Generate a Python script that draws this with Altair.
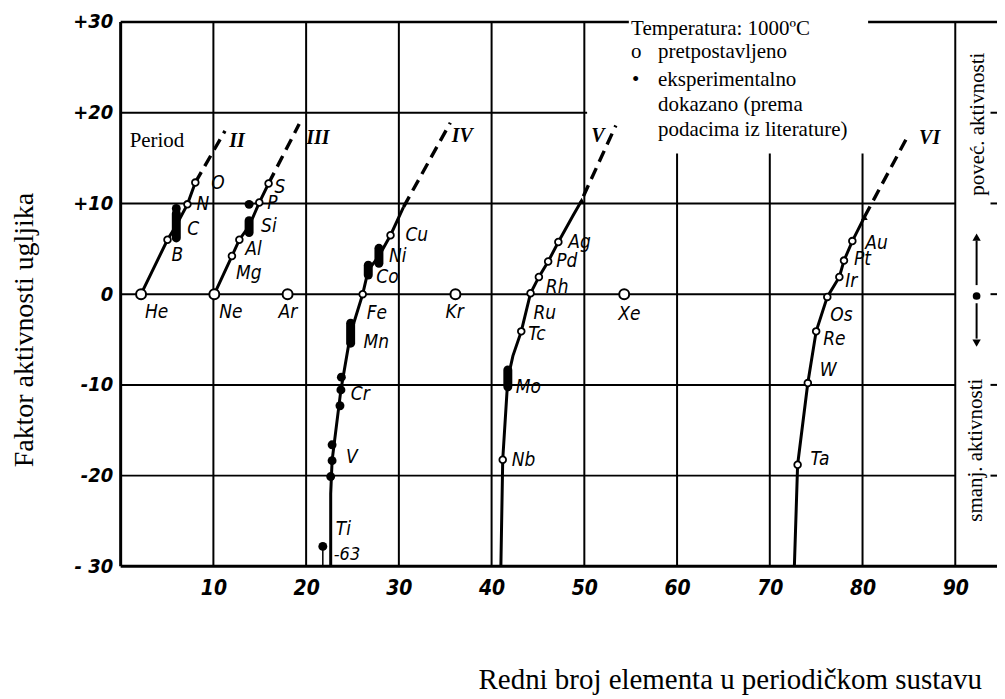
import altair as alt
import pandas as pd

# ---------------- data ----------------
x_ticks = [10, 20, 30, 40, 50, 60, 70, 80, 90]
y_ticks = [-30, -20, -10, 0, 10, 20, 30]

# assumed values (open circles): symbol, atomic number position, activity factor
open_sym = ["He", "B", "N", "O", "Ne", "Mg", "Al", "P", "S", "Ar", "Fe", "Cu", "Kr",
            "Nb", "Tc", "Ru", "Rh", "Pd", "Ag", "Xe",
            "Ta", "W", "Re", "Os", "Ir", "Pt", "Au"]
open_z = [2.2, 5.05, 7.2, 8.05, 10.1, 12.0, 12.8, 14.95, 15.95, 18.0, 26.1, 29.1, 36.1,
          41.2, 43.2, 44.2, 45.1, 46.1, 47.2, 54.3,
          73.0, 74.1, 75.0, 76.2, 77.5, 78.0, 78.9]
open_f = [0, 6.0, 9.9, 12.3, 0, 4.2, 6.0, 10.1, 12.2, 0, 0, 6.5, 0,
          -18.25, -4.1, 0.1, 1.9, 3.6, 5.75, 0,
          -18.8, -9.8, -4.1, -0.3, 1.9, 3.7, 5.85]
noble = ["He", "Ne", "Ar", "Kr", "Xe"]

# experimental values (filled dots)
dot_sym = ["C", "Si", "Cr", "Cr", "Cr", "V", "V", "V", "Ti"]
dot_z = [6.0, 13.85, 23.8, 23.75, 23.65, 22.8, 22.8, 22.65, 21.8]
dot_f = [9.45, 9.9, -9.15, -10.55, -12.3, -16.6, -18.35, -20.1, -27.8]

# experimental ranges (filled bars)
bar_sym = ["C", "Si", "Mn", "Co", "Ni", "Mo"]
bar_z = [6.0, 13.85, 24.8, 26.7, 27.85, 41.75]
bar_lo = [6.2, 6.8, -5.4, 2.1, 3.4, -10.2]
bar_hi = [8.9, 8.1, -3.2, 3.2, 5.05, -8.35]

# period curves (solid part) and their dashed extrapolation
periods = ["II", "III", "IV", "V", "VI"]
solid_z = {
    "II": [2.2, 5.05, 6.0, 7.2, 8.05],
    "III": [10.1, 12.0, 12.8, 13.85, 14.95, 15.95],
    "IV": [22.65, 22.65, 22.8, 23.75, 24.8, 26.1, 26.7, 27.85, 29.1, 30.5],
    "V": [41.0, 41.2, 41.75, 42.3, 43.2, 44.2, 45.1, 46.1, 47.2, 48.8, 49.7],
    "VI": [72.65, 73.0, 74.1, 75.0, 76.2, 77.5, 78.0, 78.9, 80.2],
}
solid_f = {
    "II": [0, 6.0, 7.6, 9.9, 12.3],
    "III": [0, 4.2, 6.0, 7.5, 10.1, 12.2],
    "IV": [-30, -22, -18.35, -10.55, -4.3, 0, 2.65, 4.2, 6.5, 9.6],
    "V": [-30, -18.25, -9.3, -6.8, -4.1, 0.1, 1.9, 3.6, 5.75, 8.7, 10.3],
    "VI": [-30, -18.8, -9.8, -4.1, -0.3, 1.9, 3.7, 5.85, 8.5],
}
dash_z = {"II": [8.05, 11.25], "III": [15.95, 19.25], "IV": [30.5, 35.55],
          "V": [49.9, 53.4], "VI": [80.2, 85.0]}
dash_f = {"II": [12.3, 18.0], "III": [12.2, 18.75], "IV": [9.6, 18.9],
          "V": [10.8, 18.6], "VI": [8.5, 17.65]}
wedge_z = [49.7, 80.2]
wedge_f = [10.3, 8.5]

period_label_z = [11.7, 20.0, 35.7, 50.75, 86.1]
period_label_f = [16.9, 17.2, 17.4, 17.4, 17.2]

# label anchors for element symbols
label_sym = ["He", "B", "C", "N", "O", "Ne", "Mg", "Al", "Si", "P", "S", "Ar",
             "Fe", "Mn", "Cr", "V", "Ti", "Co", "Ni", "Cu", "Kr",
             "Nb", "Mo", "Tc", "Ru", "Rh", "Pd", "Ag", "Xe",
             "Ta", "W", "Re", "Os", "Ir", "Pt", "Au"]
label_z = [2.2, 5.05, 6.0, 7.2, 8.05, 10.1, 12.0, 12.8, 13.85, 14.95, 15.95, 18.0,
           26.1, 24.8, 23.75, 22.8, 21.8, 26.7, 27.85, 29.1, 36.1,
           41.2, 41.75, 43.2, 44.2, 45.1, 46.1, 47.2, 54.3,
           73.0, 74.1, 75.0, 76.2, 77.5, 78.0, 78.9]
label_f = [0, 6.0, 7.55, 9.9, 12.3, 0, 4.2, 6.0, 7.45, 10.1, 12.2, 0,
           0, -4.3, -10.55, -18.35, -27.8, 2.65, 4.2, 6.5, 0,
           -18.25, -9.3, -4.1, 0.1, 1.9, 3.6, 5.75, 0,
           -18.8, -9.8, -4.1, -0.3, 1.9, 3.7, 5.85]

# ---------------- layout / style ----------------
X_MAX = 94.5
PLOT_W = 879
PLOT_H = 546
PXU_X = PLOT_W / X_MAX
PXU_Y = PLOT_H / 60.0

# pixel offsets of the symbol labels from their anchors (dx right, dy down)
label_offset = {
    "He": (4, 18), "B": (4, 15), "C": (11, 3), "N": (9, 0), "O": (16, 0),
    "Ne": (5, 18), "Mg": (4, 17), "Al": (6, 9), "Si": (12, -1), "P": (8, 0), "S": (6, 4),
    "Ar": (-9, 18), "Fe": (4, 19), "Mn": (13, 9), "Cr": (10, 4), "V": (14, -4),
    "Ti": (13, -17), "Co": (8, 7), "Ni": (10, 0), "Cu": (15, 0), "Kr": (-10, 18),
    "Nb": (9, 0), "Mo": (8, 8), "Tc": (7, 3), "Ru": (3, 20), "Rh": (7, 10), "Pd": (8, 0),
    "Ag": (10, 0), "Xe": (-6, 20), "Ta": (13, -6), "W": (12, -13), "Re": (7, 8),
    "Os": (3, 18), "Ir": (6, 4), "Pt": (10, -2), "Au": (13, 2),
}

LF = "Liberation Sans Narrow, DejaVu Sans Condensed, Arial Narrow, Liberation Sans, sans-serif"
SF = "Liberation Serif, Times New Roman, serif"

xs = alt.Scale(domain=[0, X_MAX], nice=False, zero=False)
ys = alt.Scale(domain=[-30, 30], nice=False, zero=False)

x_axis = alt.Axis(values=x_ticks, labelFont=LF, labelFontSize=21, labelFontStyle="italic",
                  labelFontWeight="bold", labelPadding=11, ticks=False, domain=False, grid=False,
                  labelColor="black", labelFlush=False, title=None)
y_axis = alt.Axis(values=y_ticks, labelFont=LF, labelFontSize=20, labelFontStyle="italic",
                  labelFontWeight="bold", labelPadding=8, ticks=False, domain=False, grid=False,
                  labelColor="black", title=None,
                  labelExpr="datum.value > 0 ? '+' + datum.value : (datum.value == -30 ? '- 30' : (datum.value < 0 ? '-' + abs(datum.value) : '0'))")


def XQ(field="z"):
    return alt.X(f"{field}:Q", scale=xs, axis=x_axis, title=None)


def YQ(field="f"):
    return alt.Y(f"{field}:Q", scale=ys, axis=y_axis, title=None)


# ---------------- grid and frame ----------------
hseg = []  # (y, x1, x2, width)
for t in [-20, -10, 0, 10]:
    hseg.append((t, 0, 90, 2.0))
    hseg.append((t, 93.8, X_MAX, 2.0))
hseg.append((20, 0, 50.3, 2.0))
hseg.append((20, 93.8, X_MAX, 2.0))
hseg.append((30, 0, 54.8, 2.6))
hseg.append((30, 80.6, X_MAX, 2.6))
hseg.append((-30, 0, X_MAX, 3.0))
hdf = pd.DataFrame(hseg, columns=["f", "z", "z2", "w"])

vseg = []  # (x, y1, y2, width)
vseg.append((0, -30, 30, 3.0))
for t in x_ticks:
    if t in (60, 70, 80):
        vseg.append((t, -30, 15.5, 2.0))
    else:
        vseg.append((t, -30, 30, 2.0))
vdf = pd.DataFrame(vseg, columns=["z", "f", "f2", "w"])

grid_h = alt.Chart(hdf).mark_rule(color="black").encode(
    x=XQ("z"), x2="z2:Q", y=YQ("f"),
    strokeWidth=alt.StrokeWidth("w:Q", scale=None))
grid_v = alt.Chart(vdf).mark_rule(color="black").encode(
    x=XQ("z"), y=YQ("f"), y2="f2:Q",
    strokeWidth=alt.StrokeWidth("w:Q", scale=None))

# ---------------- curves ----------------
rows_s, rows_d = [], []
for p in periods:
    for i, (z, f) in enumerate(zip(solid_z[p], solid_f[p])):
        rows_s.append({"p": p, "o": i, "z": z, "f": f})
    for i, (z, f) in enumerate(zip(dash_z[p], dash_f[p])):
        rows_d.append({"p": p, "o": i, "z": z, "f": f})
sdf = pd.DataFrame(rows_s)
ddf = pd.DataFrame(rows_d)

solid = alt.Chart(sdf).mark_line(color="black", strokeWidth=3).encode(
    x=XQ(), y=YQ(), detail="p:N", order="o:Q")
dashed = alt.Chart(ddf).mark_line(color="black", strokeWidth=3.4, strokeDash=[12, 7]).encode(
    x=XQ(), y=YQ(), detail="p:N", order="o:Q")

wedge = alt.Chart(pd.DataFrame({"z": wedge_z, "f": wedge_f})).mark_point(
    shape="triangle-up", filled=True, color="black", size=45, opacity=1).encode(x=XQ(), y=YQ())

# ---------------- points ----------------
odf = pd.DataFrame({"s": open_sym, "z": open_z, "f": open_f})
odf["noble"] = odf["s"].isin(noble)
open_big = alt.Chart(odf[odf["noble"]]).mark_point(
    shape="circle", fill="white", fillOpacity=1, stroke="black", strokeWidth=2, size=100, opacity=1
).encode(x=XQ(), y=YQ())
open_small = alt.Chart(odf[~odf["noble"]]).mark_point(
    shape="circle", fill="white", fillOpacity=1, stroke="black", strokeWidth=1.8, size=45, opacity=1
).encode(x=XQ(), y=YQ())

bdf = pd.DataFrame({"s": bar_sym, "z": bar_z, "f": bar_lo, "f2": bar_hi})
bars = alt.Chart(bdf).mark_rule(color="black", strokeWidth=9, strokeCap="round").encode(
    x=XQ(), y=YQ(), y2="f2:Q")

fdf = pd.DataFrame({"s": dot_sym, "z": dot_z, "f": dot_f})
dots = alt.Chart(fdf).mark_circle(color="black", size=80, opacity=1).encode(x=XQ(), y=YQ())

# Ti off-scale marker (-63)
ti = fdf[fdf["s"] == "Ti"].copy()
ti["f2"] = -30
ti_tick = alt.Chart(ti).mark_rule(color="black", strokeWidth=1.5).encode(x=XQ(), y=YQ(), y2="f2:Q")
ti_text = alt.Chart(ti).mark_text(text="-63", font=LF, fontSize=18, fontStyle="italic",
                                  align="left", baseline="middle", dx=11, dy=9, color="black").encode(
    x=XQ(), y=YQ())

# ---------------- labels ----------------
ldf = pd.DataFrame({"s": label_sym, "z": label_z, "f": label_f})
ldf["lz"] = ldf["z"] + ldf["s"].map(lambda s: label_offset[s][0]) / PXU_X
ldf["lf"] = ldf["f"] - ldf["s"].map(lambda s: label_offset[s][1]) / PXU_Y
labels = alt.Chart(ldf).mark_text(font=LF, fontSize=19, fontStyle="italic", align="left",
                                  baseline="middle", color="black").encode(
    x=XQ("lz"), y=YQ("lf"), text="s:N")

pdf = pd.DataFrame({"p": periods, "z": period_label_z, "f": period_label_f})
plabels = alt.Chart(pdf).mark_text(font=SF, fontSize=20, fontWeight="bold", fontStyle="italic",
                                   align="left", baseline="middle", color="black").encode(
    x=XQ(), y=YQ(), text="p:N")

# ---------------- annotations ----------------
def txt(text, x, y, size=21, align="left", baseline="alphabetic", angle=0, font=SF):
    return alt.Chart(pd.DataFrame({"t": [text]})).mark_text(
        font=font, fontSize=size, align=align, baseline=baseline, angle=angle, color="black"
    ).encode(x=alt.value(x), y=alt.value(y), text="t:N")

legend_layers = [
    txt("Temperatura: 1000ºC", 512, 13.5),
    txt("o", 512, 36),
    txt("pretpostavljeno", 539, 36),
    txt("•", 513, 64),
    txt("eksperimentalno", 539, 64),
    txt("dokazano (prema", 539, 89),
    txt("podacima iz literature)", 539, 114),
    txt("Period", 9, 125),
    txt("poveć. aktivnosti", 866, 102.5, align="center", angle=270),
    txt("smanj. aktivnosti", 864, 429.5, align="center", angle=270),
    txt("Redni broj elementa u periodičkom sustavu", 359, 669, size=29),
    txt("Faktor aktivnosti ugljika", -88, 309, size=28, align="center", angle=270),
]

# activity arrow on the right
arr_shaft = alt.Chart(pd.DataFrame({"z": [92.3, 92.3], "f": [1.0, -1.0], "f2": [5.9, -4.9]})).mark_rule(
    color="black", strokeWidth=2).encode(x=XQ(), y=YQ(), y2="f2:Q")
arr_up = alt.Chart(pd.DataFrame({"z": [92.3], "f": [6.3]})).mark_point(
    shape="triangle-up", filled=True, color="black", size=70, opacity=1).encode(x=XQ(), y=YQ())
arr_dn = alt.Chart(pd.DataFrame({"z": [92.3], "f": [-5.4]})).mark_point(
    shape="triangle-down", filled=True, color="black", size=70, opacity=1).encode(x=XQ(), y=YQ())
arr_dot = alt.Chart(pd.DataFrame({"z": [92.3], "f": [-0.2]})).mark_circle(
    color="black", size=60, opacity=1).encode(x=XQ(), y=YQ())

chart = alt.layer(
    grid_h, grid_v, solid, dashed, wedge, bars, dots, open_big, open_small,
    ti_tick, ti_text, labels, plabels, arr_shaft, arr_up, arr_dn, arr_dot,
    *legend_layers
).properties(
    width=PLOT_W, height=PLOT_H,
    autosize=alt.AutoSizeParams(type="none"),
    padding={"left": 113, "top": 13, "right": 0, "bottom": 129},
    background="white",
).configure_view(stroke=None)

chart.save("out.html", embed_options={"renderer": "svg", "actions": False})
